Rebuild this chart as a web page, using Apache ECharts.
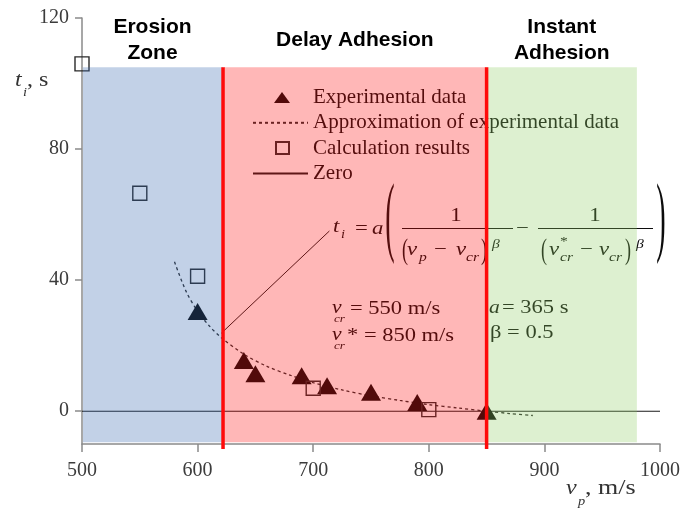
<!DOCTYPE html>
<html><head><meta charset="utf-8">
<script src="https://cdn.jsdelivr.net/npm/echarts@6.0.0/dist/echarts.min.js"></script>
<style>html,body{margin:0;padding:0;background:#fff}#c{width:683px;height:515px}</style>
</head><body><div id="c"></div>
<script>
// ---- data ----
const expX = [600, 640, 650, 690, 712, 750, 790, 850];
const expY = [30.4, 15.5, 11.4, 10.8, 7.8, 5.8, 2.7, 0];
const calcX = [500, 550, 600, 700, 800];
const calcY = [106, 66.5, 41.2, 7, 0.5];
const approxX = [580, 590, 600, 610, 620, 640, 660, 680, 700, 725, 750, 775, 800, 825, 850, 870, 890];
const approxY = [45.6, 36.6, 30.5, 26.1, 22.6, 17.4, 13.7, 11.0, 8.7, 6.5, 4.7, 3.3, 2.0, 1.0, 0, -0.7, -1.3];
const zeroX = [500, 1000];
const zeroY = [0, 0];
const leaderX = [620.5, 714];
const leaderY = [23.8, 55];
const zoneNames = ['Erosion\nZone', 'Delay Adhesion', 'Instant\nAdhesion'];
const zoneStart = [500, 622, 850];
const zoneEnd = [622, 850, 980];
const zoneTop = 105;
const boundaryX = [622, 850];
const xTicks = [500, 600, 700, 800, 900, 1000];
const yTicks = [0, 40, 80, 120];
const legendNames = ['Experimental data', 'Approximation of experimental data', 'Calculation results', 'Zero'];

// ---- styles ----
const SERIF = '"Liberation Serif","Times New Roman",serif';
const SANS = '"Liberation Sans",Arial,sans-serif';
const zoneFill = ['rgba(52,102,175,0.3)', 'rgba(255,15,15,0.3)', 'rgba(142,205,98,0.3)'];
const axisCol = '#8a8a8a';
const ink = '#0c0c0c';
// legend icons: small symbol centred in a 55x14 box (moveTo points fix the box)
const legendIcons = [
  'path://M0,0M55,14M21,12.5L29,1.5L37,12.5Z',
  null,
  'path://M0,0M55,14M23,1L36,1L36,13L23,13Z',
  null
];

function T(s, x, y, size, o) {
  o = o || {};
  return {
    type: 'text', x: x, y: y, scaleX: o.sx || 1.2, z: 1,
    style: {
      text: s, x: 0, y: 0,
      font: (o.italic ? 'italic ' : '') + size + 'px ' + SERIF,
      fill: o.fill || ink,
      align: o.align || 'left', verticalAlign: 'middle',
      textAlign: o.align || 'left', textVerticalAlign: 'middle'
    }
  };
}
function L(x1, y1, x2, y2) {
  return { type: 'line', z: 1, shape: { x1: x1, y1: y1, x2: x2, y2: y2 }, style: { stroke: ink, lineWidth: 1 } };
}

const graphics = [
  // y axis name  t_i, s
  T('t', 15, 81, 20, { italic: true, fill: '#333' }),
  T('i', 23, 93, 12, { italic: true, fill: '#333' }),
  T(', s', 27, 81, 20, { fill: '#333' }),
  // x axis name  v_p, m/s
  T('v', 566, 489, 20, { italic: true, fill: '#333' }),
  T('p', 578, 502, 12, { italic: true, fill: '#333' }),
  T(', m/s', 585, 489, 20, { sx: 1.3, fill: '#333' }),
  // formula
  T('t', 333, 227, 19, { italic: true }),
  T('i', 341, 235, 12, { italic: true }),
  T('=', 355, 229, 19),
  T('a', 372, 229, 19, { italic: true }),
  T('(', 390, 222, 88, { sx: 0.32, align: 'center' }),
  T('1', 456, 216, 19, { align: 'center' }),
  L(402, 228.5, 513, 228.5),
  T('(', 402, 251, 30, { sx: 0.6 }),
  T('v', 407, 250, 19, { italic: true }),
  T('p', 419, 258, 13, { italic: true }),
  T('\u2212', 434, 250, 19),
  T('v', 456, 250, 19, { italic: true }),
  T('cr', 466, 258, 13, { italic: true }),
  T(')', 481, 251, 30, { sx: 0.6 }),
  T('\u03b2', 492, 245, 13, { italic: true }),
  T('\u2212', 516, 229, 19),
  T('1', 595, 216, 19, { align: 'center' }),
  L(538, 228.5, 653, 228.5),
  T('(', 541, 251, 30, { sx: 0.6 }),
  T('v', 549, 250, 19, { italic: true }),
  T('*', 560, 242, 13),
  T('cr', 560, 258, 13, { italic: true }),
  T('\u2212', 580, 250, 19),
  T('v', 599, 250, 19, { italic: true }),
  T('cr', 609, 258, 13, { italic: true }),
  T(')', 625, 251, 30, { sx: 0.6 }),
  T('\u03b2', 636, 245, 13, { italic: true }),
  T(')', 661, 222, 88, { sx: 0.32, align: 'center' }),
  // constants
  T('v', 332, 308, 18, { italic: true }),
  T('cr', 334, 319, 11, { italic: true }),
  T('= 550 m/s', 350, 309, 18, { sx: 1.25 }),
  T('v', 332, 335, 18, { italic: true }),
  T('cr', 334, 346, 11, { italic: true }),
  T('* = 850 m/s', 347, 336, 18, { sx: 1.25 }),
  T('a', 489, 308, 18, { italic: true }),
  T('= 365 s', 502, 308, 18, { sx: 1.25 }),
  T('\u03b2 = 0.5', 490, 333, 18, { sx: 1.25 })
];

const chart = echarts.init(document.getElementById('c'), null, { renderer: 'canvas' });
const option = {
  animation: false,
  backgroundColor: '#fff',
  grid: { left: 82, right: 23, top: 18, bottom: 71, containLabel: false },
  legend: {
    data: legendNames.map((n, i) => legendIcons[i] ? { name: n, icon: legendIcons[i] } : { name: n, itemStyle: { opacity: 0 } }),
    orient: 'vertical', left: 252, top: 87, padding: 0,
    itemWidth: 55, itemHeight: 14, itemGap: 4.3, z: 3,
    textStyle: { fontFamily: SERIF, fontSize: 21, lineHeight: 20, color: ink },
    selectedMode: false
  },
  xAxis: {
    type: 'value', min: 500, max: 1000, interval: 100,
    axisLine: { onZero: false, lineStyle: { color: axisCol, width: 1.5 } },
    axisTick: { length: 8, customValues: xTicks, lineStyle: { color: axisCol, width: 1.5 } },
    axisLabel: { margin: 17, customValues: xTicks, formatter: v => String(v), fontFamily: SERIF, fontSize: 20, color: '#3c3c3c' },
    splitLine: { show: false }
  },
  yAxis: {
    type: 'value', min: -10, max: 120,
    axisLine: { show: true, onZero: false, lineStyle: { color: axisCol, width: 1.5 } },
    axisTick: { show: true, length: 7, customValues: yTicks, lineStyle: { color: axisCol, width: 1.5 } },
    axisLabel: { margin: 13, customValues: yTicks, fontFamily: SERIF, fontSize: 20, color: '#3c3c3c' },
    splitLine: { show: false }
  },
  graphic: { elements: graphics },
  series: [
    {
      name: 'Experimental data', type: 'scatter', z: 5,
      data: expX.map((x, i) => [x, expY[i]]),
      symbol: 'triangle', symbolSize: [20, 17],
      itemStyle: { color: '#080808', opacity: 1 }
    },
    {
      name: 'Approximation of experimental data', type: 'line', z: 4,
      data: approxX.map((x, i) => [x, approxY[i]]),
      symbol: 'none', smooth: 0.3,
      lineStyle: { type: [3, 3], width: 1.3, color: '#2a2a2a' },
      itemStyle: { color: '#2a2a2a' }
    },
    {
      name: 'Calculation results', type: 'scatter', z: 5,
      data: calcX.map((x, i) => [x, calcY[i]]),
      symbol: 'rect', symbolSize: 14,
      itemStyle: { color: 'rgba(0,0,0,0)', borderColor: '#2a2a2a', borderWidth: 1.4, opacity: 1 }
    },
    {
      name: 'Zero', type: 'line', z: 3,
      data: zeroX.map((x, i) => [x, zeroY[i]]),
      symbol: 'none',
      lineStyle: { color: '#1a1a1a', width: 1.2 },
      itemStyle: { color: '#1a1a1a' }
    },
    {
      name: 'leader', type: 'line', z: 3, silent: true,
      data: leaderX.map((x, i) => [x, leaderY[i]]),
      symbol: 'none',
      lineStyle: { color: '#1a1a1a', width: 1 }
    },
    {
      name: 'zones', type: 'custom', z: 10, silent: true,
      data: zoneStart.map((s, i) => [s, zoneEnd[i], i]),
      renderItem: function (params, api) {
        const x0 = api.value(0), x1 = api.value(1), idx = api.value(2);
        const p0 = api.coord([x0, zoneTop]);
        const p1 = api.coord([x1, -9.5]);
        const pc = api.coord([(x0 + x1) / 2, 113.3]);
        return {
          type: 'group', children: [
            { type: 'rect', shape: { x: p0[0] + 1, y: p0[1], width: p1[0] - p0[0] - 1, height: p1[1] - p0[1] }, style: { fill: zoneFill[idx] } },
            { type: 'text', style: { text: zoneNames[idx], x: pc[0], y: pc[1], align: 'center', verticalAlign: 'middle', font: 'bold 21px ' + SANS, fill: '#000', lineHeight: 26 } }
          ]
        };
      }
    },
    {
      name: 'bounds', type: 'custom', z: 20, silent: true,
      data: boundaryX.map(x => [x, 0]),
      renderItem: function (params, api) {
        const a = api.coord([api.value(0), -11.5]);
        const b = api.coord([api.value(0), zoneTop]);
        return { type: 'line', shape: { x1: a[0], y1: a[1], x2: b[0], y2: b[1] }, style: { stroke: '#ff0a0a', lineWidth: 3.5 } };
      }
    }
  ]
};
chart.setOption(option);
</script>
</body></html>
